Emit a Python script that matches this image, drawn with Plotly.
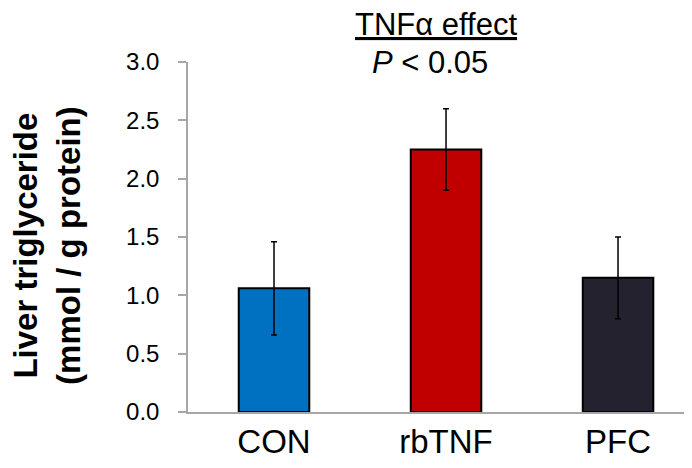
import plotly.graph_objects as go

categories = ["CON", "rbTNF", "PFC"]
values = [1.06, 2.25, 1.15]
errors = [0.40, 0.35, 0.35]
colors = ["#0070C0", "#C00000", "#24222E"]
y_ticks = [0.0, 0.5, 1.0, 1.5, 2.0, 2.5, 3.0]
y_tick_labels = ["0.0", "0.5", "1.0", "1.5", "2.0", "2.5", "3.0"]

fig = go.Figure()
fig.add_trace(go.Bar(
    x=categories, y=values,
    width=0.41,
    marker=dict(color=colors, line=dict(color="black", width=2)),
    error_y=dict(type="data", array=errors, visible=True,
                 color="black", thickness=1.5, width=3),
))

font = "Liberation Sans, Arial, sans-serif"
fig.update_layout(
    width=692, height=468,
    margin=dict(l=180, r=8, t=54, b=64),
    plot_bgcolor="white", paper_bgcolor="white",
    showlegend=False,
    font=dict(family=font, color="black"),
    xaxis=dict(range=[-0.5, 2.43], showline=True, linecolor="#A6A6A6", linewidth=1.5,
               ticks="", tickfont=dict(size=33, color="black"), showgrid=False, zeroline=False),
    yaxis=dict(range=[0, 3], tickvals=y_ticks, ticktext=y_tick_labels, showline=True,
               linecolor="#A6A6A6", linewidth=1.5, ticks="outside", ticklen=8,
               tickcolor="#A6A6A6", tickwidth=1.5, tickfont=dict(size=24, color="black"),
               showgrid=False, zeroline=False, ticklabelstandoff=14),
    annotations=[
        dict(text="<u>TNFα effect</u>", xref="paper", yref="paper", x=0.492, y=1.107,
             xanchor="center", yanchor="middle", showarrow=False, font=dict(size=31)),
        dict(text="<i>P</i> < 0.05", xref="paper", yref="paper", x=0.48, y=1.0,
             xanchor="center", yanchor="middle", showarrow=False, font=dict(size=31)),
        dict(text="<b>Liver triglyceride<br>(mmol / g protein)</b>", xref="paper", yref="paper",
             x=-0.28, y=0.477, xanchor="center", yanchor="middle", textangle=-90,
             showarrow=False, font=dict(size=33)),
    ],
)
fig.write_html("out.html")
